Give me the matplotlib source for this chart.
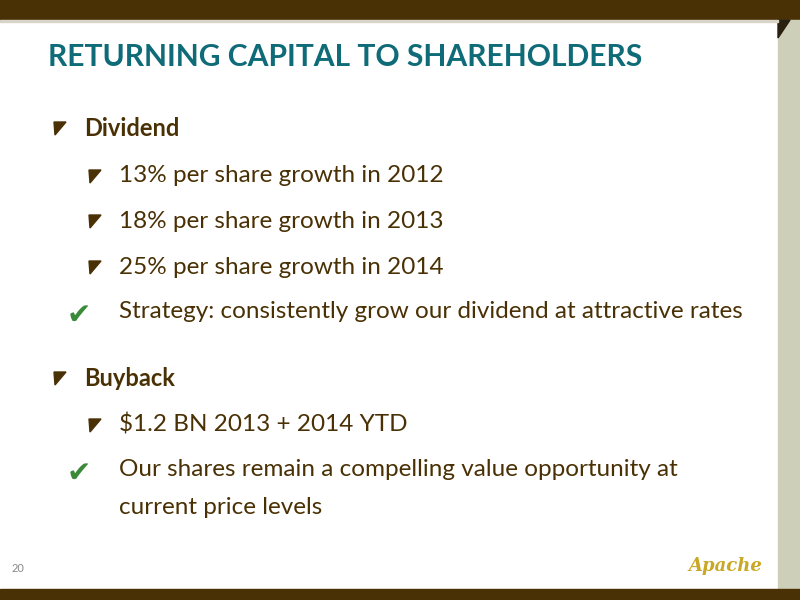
import matplotlib
matplotlib.use("Agg")
import matplotlib.pyplot as plt
from matplotlib.patches import Rectangle, Polygon

plt.rcParams["font.family"] = ["Lato", "DejaVu Sans"]

title = "RETURNING CAPITAL TO SHAREHOLDERS"
# (text, level, marker, y)
lines = [
    ("Dividend", 0, "tri", 128),
    ("13% per share growth in 2012", 1, "tri", 176),
    ("18% per share growth in 2013", 1, "tri", 221),
    ("25% per share growth in 2014", 1, "tri", 267),
    ("Strategy: consistently grow our dividend at attractive rates", 1, "check", 312),
    ("Buyback", 0, "tri", 378),
    ("$1.2 BN 2013 + 2014 YTD", 1, "tri", 425),
    ("Our shares remain a compelling value opportunity at", 1, "check", 470),
    ("current price levels", 1, None, 508),
]
page = "20"

brown = "#4a3105"
fig = plt.figure(figsize=(8, 6), dpi=100)
ax = fig.add_axes([0, 0, 1, 1])
ax.set_xlim(0, 800)
ax.set_ylim(600, 0)
ax.axis("off")

ax.add_patch(Rectangle((0, 0), 800, 20, color=brown))
ax.add_patch(Rectangle((778, 20), 22, 570, color="#cdcfb8"))
ax.add_patch(Polygon([(778, 20), (790, 20), (778, 38)], color="#2a2010"))
ax.add_patch(Rectangle((0, 589), 800, 11, color=brown))
ax.add_patch(Rectangle((0, 20), 778, 2, color="#d8d4c8"))

ax.text(48, 57, title, fontsize=21.6, fontweight="bold", color="#0f6b78",
        va="center", ha="left")

for text, level, marker, y in lines:
    bx = 54 if level == 0 else 89
    tx = 84 if level == 0 else 119
    if marker == "tri":
        ax.add_patch(Polygon([(bx, y - 6), (bx + 12, y - 6), (bx + 1, y + 7)],
                             color=brown))
    elif marker == "check":
        ax.text(bx - 22, y + 4, "\u2714", fontsize=21, color="#3b8a3a",
                va="center", ha="left", family="DejaVu Sans")
    if level == 0:
        ax.text(tx, y, text, fontsize=17, fontweight="bold", color=brown,
                va="center", ha="left")
    else:
        ax.text(tx, y, text, fontsize=17.5, color=brown, va="center", ha="left")

ax.text(12, 569, page, fontsize=8, color="#888888", va="center")
ax.text(688, 566, "Apache", fontsize=13, fontweight="bold", style="italic",
        color="#c9a825", va="center", family="DejaVu Serif")

fig.savefig("out.png", dpi=100)
